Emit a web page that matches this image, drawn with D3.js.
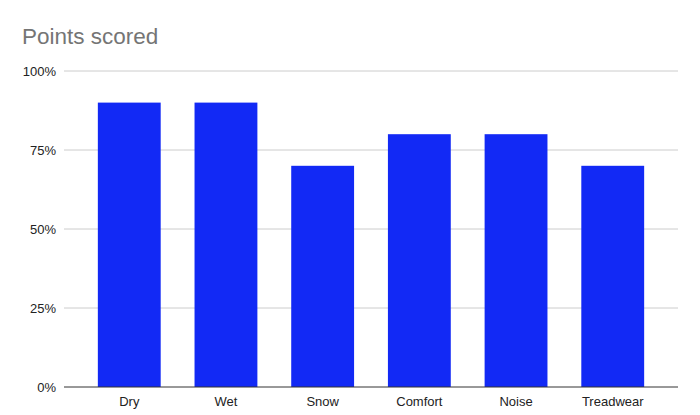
<!DOCTYPE html>
<html>
<head>
<meta charset="utf-8">
<script src="https://cdn.jsdelivr.net/npm/d3@7"></script>
<style>
  body { margin: 0; background: #fff; }
  text { font-family: "Liberation Sans", Arial, sans-serif; }
</style>
</head>
<body>
<script>
// chart values
var categories = ["Dry", "Wet", "Snow", "Comfort", "Noise", "Treadwear"];
var scores = [0.9, 0.9, 0.7, 0.8, 0.8, 0.7];
var yTicks = [0, 0.25, 0.5, 0.75, 1];

var width = 700, height = 415;
var plotLeft = 64, plotRight = 678, plotTop = 71, plotBottom = 387;
var fontFam = "'Liberation Sans', Arial, sans-serif";

var svg = d3.select("body").append("svg")
    .attr("width", width).attr("height", height);

svg.append("rect").attr("width", width).attr("height", height).attr("fill", "white");

var x = d3.scaleBand().domain(categories).range([plotLeft, plotRight])
    .paddingInner(0.35).paddingOuter(0.35);
var y = d3.scaleLinear().domain([0, 1]).range([plotBottom, plotTop]);

// gridlines
svg.append("g")
    .selectAll("line").data(yTicks.slice(1)).enter().append("line")
    .attr("x1", plotLeft).attr("x2", plotRight)
    .attr("y1", function(d) { return y(d); }).attr("y2", function(d) { return y(d); })
    .attr("stroke", "#cccccc").attr("stroke-width", 1);

// y axis labels
var yAxis = svg.append("g")
    .attr("transform", "translate(" + (plotLeft - 8) + ",0)")
    .call(d3.axisLeft(y).tickValues(yTicks).tickFormat(d3.format(".0%")).tickSize(0).tickPadding(0));
yAxis.select(".domain").remove();
yAxis.selectAll("text").attr("font-size", "13px").attr("fill", "#222").attr("font-family", fontFam);

// bars
svg.append("g")
    .selectAll("rect").data(scores).enter().append("rect")
    .attr("x", function(d, i) { return x(categories[i]); })
    .attr("y", function(d) { return y(d); })
    .attr("width", x.bandwidth())
    .attr("height", function(d) { return plotBottom - y(d); })
    .attr("fill", "#1229f5");

// baseline
svg.append("line")
    .attr("x1", plotLeft).attr("x2", plotRight)
    .attr("y1", plotBottom).attr("y2", plotBottom)
    .attr("stroke", "#333333").attr("stroke-width", 1);

// x axis labels
var xAxis = svg.append("g")
    .attr("transform", "translate(0," + plotBottom + ")")
    .call(d3.axisBottom(x).tickSize(0).tickPadding(10));
xAxis.select(".domain").remove();
xAxis.selectAll("text").attr("font-size", "13px").attr("fill", "#222").attr("font-family", fontFam);

// title
svg.append("text")
    .attr("x", 22).attr("y", 44)
    .text("Points scored")
    .attr("font-size", "22.5px")
    .attr("font-family", fontFam)
    .attr("fill", "#757575");
</script>
</body>
</html>
